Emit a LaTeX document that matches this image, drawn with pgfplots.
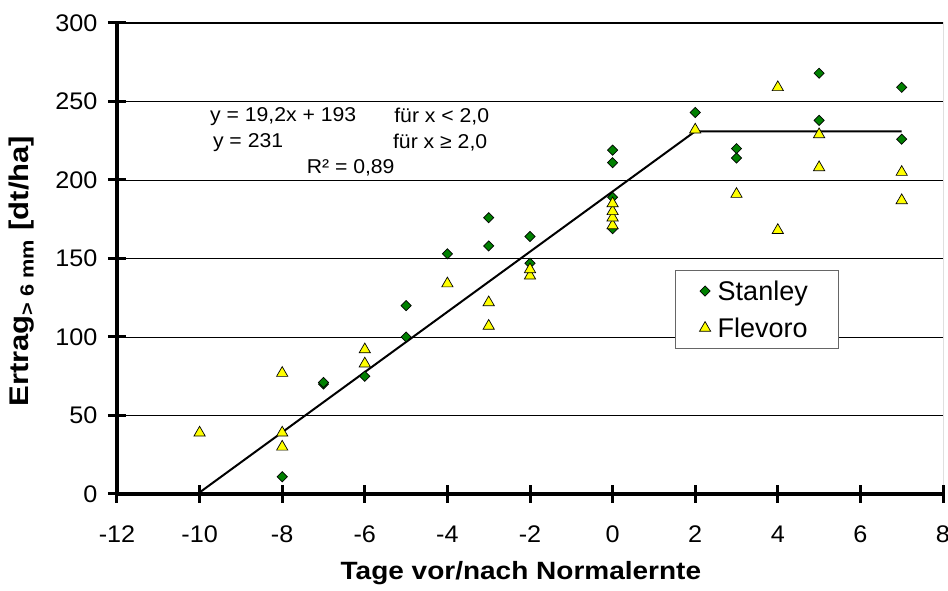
\documentclass[border=0pt]{standalone}
\usepackage{fontspec}
\setmainfont{Liberation Sans}
\newfontfamily\tickfont[FakeStretch=1.05]{Liberation Sans}
\newfontfamily\annfont[FakeStretch=1.06]{Liberation Sans}
\newfontfamily\labfont[FakeStretch=1.12]{Liberation Sans}
\newfontfamily\ylabfont[FakeStretch=1.15]{Liberation Sans}
\usepackage{pgfplots}
\pgfplotsset{compat=1.18}
\definecolor{sgreen}{RGB}{0,128,0}
\definecolor{fyellow}{RGB}{255,255,0}

\begin{document}
\begin{tikzpicture}[x=1pt,y=1pt]
\useasboundingbox (0,0) rectangle (948,591);
\begin{axis}[
  at={(117pt,97pt)}, anchor=south west,
  width=826pt, height=471pt, scale only axis,
  xmin=-12, xmax=8, ymin=0, ymax=300,
  axis lines=left, axis line style={line width=3.5pt, -},
  xtick={-12,-10,...,8}, ytick={0,50,...,300},
  xticklabels={-12,-10,-8,-6,-4,-2,0,2,4,6,8},
  yticklabels={0,50,100,150,200,250,300},
  tick align=center, major tick length=18pt,
  every tick/.style={black, line width=3pt},
  ymajorgrids, grid style={black, line width=0.9pt},
  tick label style={font=\tickfont\fontsize{24}{26}\selectfont},
  xticklabel style={yshift=-19pt},
  yticklabel style={xshift=-7pt},
  xlabel={\labfont\bfseries Tage vor/nach Normalernte},
  ylabel={\ylabfont\bfseries Ertrag\textsubscript{> 6 mm} [dt/ha]},
  xlabel style={at={(axis description cs:0.489,-0.167)}, anchor=center, font=\fontsize{25}{27}\selectfont},
  ylabel style={at={(axis description cs:-0.115,0.473)}, anchor=center, font=\fontsize{27}{29}\selectfont},
  legend style={at={(axis description cs:0.6755,0.4756)}, anchor=north west,
    draw=black!60, line width=1pt, fill=white,
    font=\fontsize{27}{29}\selectfont, inner xsep=24pt, inner ysep=8pt, row sep=12pt,
    nodes={inner xsep=7pt, inner ysep=2pt}},
  legend cell align=left,
]
\draw[black, line width=1pt] (rel axis cs:0,1) -- (rel axis cs:1,1) -- (rel axis cs:1,0);
\addplot[black, line width=2pt, forget plot] coordinates {(-10,1) (2,231) (7,231)};
\addplot[only marks, mark=square*, mark size=3.6pt, mark options={rotate=45, fill=sgreen, draw=black, line width=0.7pt}]
 coordinates {(-8,11) (-7,70) (-7,71) (-6,75) (-5,100) (-5,120) (-4,153) (-3,158) (-3,176) (-2,147) (-2,164)
 (0,169) (0,189) (0,211) (0,219) (2,243) (3,214) (3,220) (5,238) (5,268) (7,226) (7,259)};
\addlegendentry{Stanley}
\addplot[only marks, mark=triangle*, mark size=6.5pt, mark options={fill=fyellow, draw=black, line width=0.7pt}]
 coordinates {(-10,39) (-8,30) (-8,39) (-8,77) (-6,83) (-6,92) (-4,134) (-3,107) (-3,122) (-2,139) (-2,143)
 (0,171) (0,176) (0,180) (0,185) (2,232) (3,191) (4,168) (4,259) (5,208) (5,229) (7,187) (7,205)};
\addlegendentry{Flevoro}
\node[anchor=west, inner sep=0pt, font=\annfont\fontsize{20}{22}\selectfont] at (axis cs:-9.75,240.3) {y = 19,2x + 193};
\node[anchor=west, inner sep=0pt, font=\annfont\fontsize{20}{22}\selectfont] at (axis cs:-5.29,240.3) {für x < 2,0};
\node[anchor=west, inner sep=0pt, font=\annfont\fontsize{20}{22}\selectfont] at (axis cs:-9.68,223.8) {y = 231};
\node[anchor=west, inner sep=0pt, font=\annfont\fontsize{20}{22}\selectfont] at (axis cs:-5.32,223.8) {für x ≥ 2,0};
\node[anchor=west, inner sep=0pt, font=\annfont\fontsize{20}{22}\selectfont] at (axis cs:-7.41,207.5) {R² = 0,89};
\end{axis}
\end{tikzpicture}
\end{document}
